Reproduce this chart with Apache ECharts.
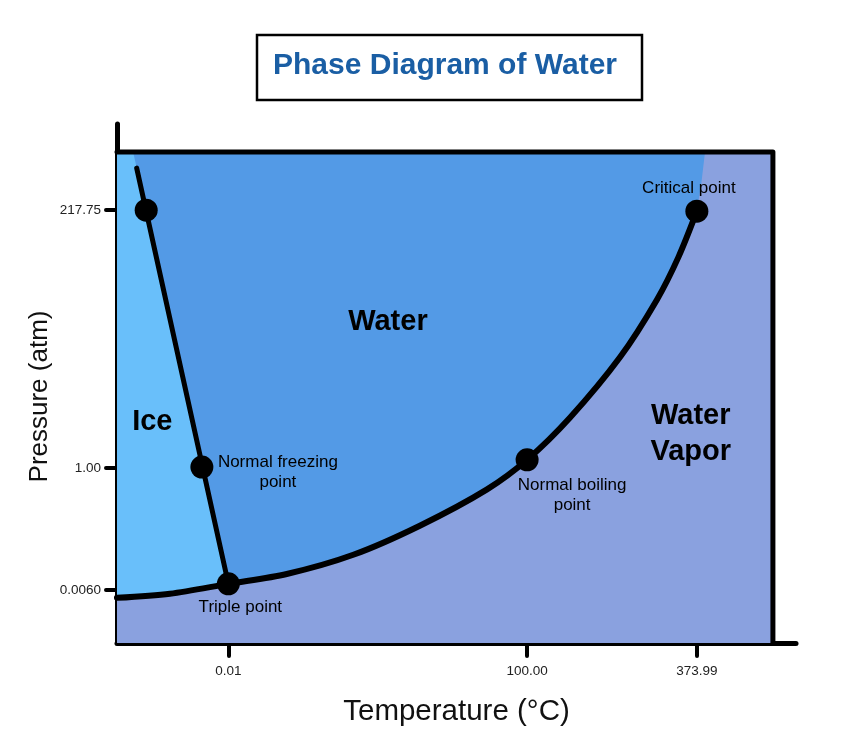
<!DOCTYPE html>
<html>
<head>
<meta charset="utf-8">
<script src="https://cdn.jsdelivr.net/npm/echarts@6/dist/echarts.min.js"></script>
<style>
  html, body { margin: 0; padding: 0; background: #ffffff; }
  #chart { width: 842px; height: 752px; }
</style>
</head>
<body>
<div id="chart"></div>
<script>
// ---- Schematic phase diagram data (diagram position units, 0..100 on each axis) ----
const xTickPos = [16.4, 60.4, 85.4];
const xTickLabels = ['0.01', '100.00', '373.99'];
const yTickPos = [10.2, 33.7, 83.4];
const yTickLabels = ['0.0060', '1.00', '217.75'];

// sublimation + vaporization (coexistence) curve, from left edge to critical point
const curveX = [0, 7.8, 16.4, 25.0, 34.8, 44.6, 54.5, 60.4, 66.7, 74.1, 79.5, 82.7, 85.4];
const curveY = [8.7, 9.5, 11.4, 13.3, 17.0, 22.6, 29.6, 35.3, 43.4, 55.1, 66.1, 74.4, 83.2];
// boundary between liquid and vapor colours above the critical point
const supercritX = [86.1, 86.6];
const supercritY = [89.0, 94.6];

// melting (fusion) line
const fusionX = [2.9, 16.4];
const fusionY = [91.5, 11.4];

// marked points
const pointNames = ['Triple point', 'Normal freezing point', 'Normal boiling point', 'Critical point', ''];
const pointX = [16.4, 12.5, 60.4, 85.4, 4.3];
const pointY = [11.4, 33.9, 35.3, 83.2, 83.4];

// phase regions
const regionNames = ['Water', 'Ice', 'Water\nVapor'];
const regionX = [39.9, 5.2, 84.5];
const regionY = [61.8, 42.6, 40.2];

// diagram frame extent
const frameRight = 96.6;
const frameTop = 94.6;

// ---- build ----
const FONT = '"Liberation Sans", Arial, Helvetica, sans-serif';
const colVapor = '#8AA1DF';
const colWater = '#539AE6';
const colIce = '#69BFFA';

const curvePts = curveX.map((x, i) => [x, curveY[i]]);
const superPts = supercritX.map((x, i) => [x, supercritY[i]]);
const fusionPts = fusionX.map((x, i) => [x, fusionY[i]]);
const fusionTopX = fusionX[0] + (frameTop - fusionY[0]) * (fusionX[1] - fusionX[0]) / (fusionY[1] - fusionY[0]);
const tripleIdx = curveX.indexOf(fusionX[1]);

const polyVapor = [[0, 0], [frameRight, 0], [frameRight, frameTop], [0, frameTop]];
const polyWater = curvePts.concat(superPts, [[0, frameTop]]);
const polyIce = curvePts.slice(0, tripleIdx + 1).concat([[fusionTopX, frameTop], [0, frameTop]]);
const polys = [polyVapor, polyWater, polyIce];
const polyColors = [colVapor, colWater, colIce];

function tickFmt(pos, labels) {
  return function (v) {
    for (let i = 0; i < pos.length; i++) if (Math.abs(pos[i] - v) < 1e-6) return labels[i];
    return '';
  };
}

const labelCfg = {
  'Triple point': { offset: [12, 23], text: 'Triple point' },
  'Normal freezing point': { offset: [76, 5], text: 'Normal freezing\npoint' },
  'Normal boiling point': { offset: [45, 36], text: 'Normal boiling\npoint' },
  'Critical point': { offset: [-8, -23], text: 'Critical point' }
};

const pointData = pointNames.map((n, i) => {
  const item = { name: n, value: [pointX[i], pointY[i]] };
  if (labelCfg[n]) {
    item.label = {
      show: true, position: 'inside', offset: labelCfg[n].offset,
      formatter: labelCfg[n].text, color: '#000', fontSize: 17, lineHeight: 20,
      fontFamily: FONT, align: 'center', textBorderWidth: 0, opacity: 1
    };
  }
  return item;
});

const chart = echarts.init(document.getElementById('chart'), null, { renderer: 'canvas' });
chart.setOption({
  animation: false,
  backgroundColor: '#ffffff',
  title: {
    text: 'Phase Diagram of Water',
    left: 273, top: 51, padding: 0,
    textStyle: { color: '#1A5EA4', fontSize: 30, fontWeight: 'bold', fontFamily: FONT, lineHeight: 30 }
  },
  graphic: [{
    type: 'rect', z: -1,
    shape: { x: 257, y: 35, width: 385, height: 65 },
    style: { fill: '#ffffff', stroke: '#000000', lineWidth: 2.5 }
  }],
  grid: { left: 117, right: 46, top: 124, bottom: 109, containLabel: false },
  xAxis: {
    type: 'value', min: 0, max: 100,
    name: 'Temperature (°C)', nameLocation: 'middle', nameGap: 54, nameMoveOverlap: false,
    nameTextStyle: { fontSize: 29.5, color: '#111', fontFamily: FONT },
    axisLine: { show: true, onZero: false, lineStyle: { color: '#000', width: 5, cap: 'round' } },
    axisTick: { show: true, customValues: xTickPos, length: 13, lineStyle: { color: '#000', width: 4, cap: 'round' } },
    axisLabel: { customValues: xTickPos, formatter: tickFmt(xTickPos, xTickLabels), margin: 21, fontSize: 13.5, color: '#222', fontFamily: FONT },
    splitLine: { show: false }
  },
  yAxis: {
    type: 'value', min: 0, max: 100,
    name: 'Pressure (atm)', nameLocation: 'middle', nameGap: 64, nameMoveOverlap: false,
    nameTextStyle: { fontSize: 26, color: '#111', fontFamily: FONT, padding: [0, 26, 0, 0] },
    axisLine: { show: true, onZero: false, lineStyle: { color: '#000', width: 5, cap: 'round' } },
    axisTick: { show: true, customValues: yTickPos, length: 11, lineStyle: { color: '#000', width: 4, cap: 'round' } },
    axisLabel: { customValues: yTickPos, formatter: tickFmt(yTickPos, yTickLabels), margin: 16, fontSize: 13.5, color: '#222', fontFamily: FONT },
    splitLine: { show: false }
  },
  series: [
    {
      type: 'custom', name: 'regions', silent: true, clip: false, z: 1,
      data: polys.map(() => [0, 0]),
      renderItem: function (params, api) {
        const poly = polys[params.dataIndex];
        return {
          type: 'polygon',
          shape: { points: poly.map(p => api.coord(p)) },
          style: { fill: polyColors[params.dataIndex], stroke: null }
        };
      }
    },
    {
      type: 'line', name: 'coexistence curve', data: curvePts, z: 3,
      smooth: 0.3, showSymbol: false, symbol: 'none', silent: true,
      lineStyle: { color: '#000', width: 6, cap: 'round' }
    },
    {
      type: 'line', name: 'fusion line', data: fusionPts, z: 3,
      showSymbol: false, symbol: 'none', silent: true,
      lineStyle: { color: '#000', width: 5, cap: 'round' }
    },
    {
      type: 'line', name: 'frame', data: [[0, frameTop], [frameRight, frameTop], [frameRight, 0]], z: 4,
      showSymbol: false, symbol: 'none', silent: true,
      lineStyle: { color: '#000', width: 5, cap: 'round', join: 'round' }
    },
    {
      type: 'scatter', name: 'points', data: pointData, z: 5,
      symbol: 'circle', symbolSize: 23, itemStyle: { color: '#000', opacity: 1 }, silent: true,
      label: { show: false }
    },
    {
      type: 'scatter', name: 'phases', z: 6, silent: true,
      data: regionNames.map((n, i) => ({ name: n, value: [regionX[i], regionY[i]] })),
      symbolSize: 0,
      itemStyle: { opacity: 1 },
      label: {
        show: true, position: 'inside', formatter: '{b}', color: '#000',
        fontSize: 29, fontWeight: 'bold', fontFamily: FONT, lineHeight: 36, align: 'center', textBorderWidth: 0
      }
    }
  ]
});
</script>
</body>
</html>
